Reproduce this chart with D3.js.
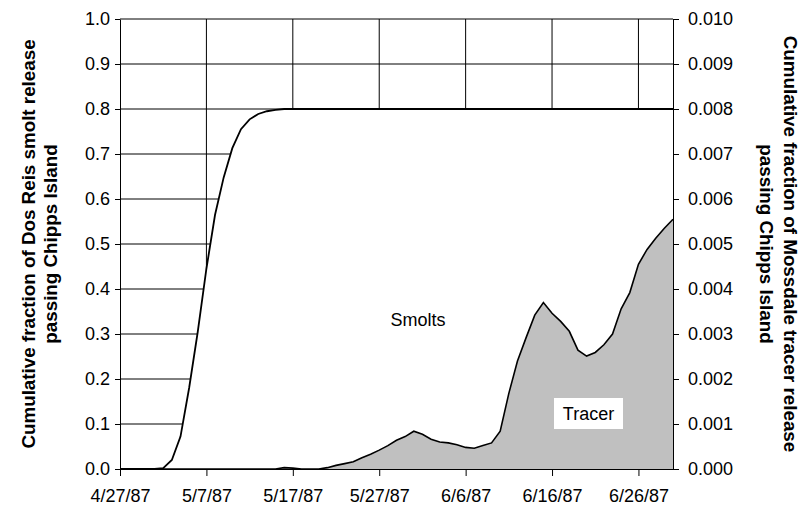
<!DOCTYPE html>
<html>
  <head>
    <title>Smolts and Tracer</title>
    <meta charset="utf-8">
    <style>
      body {
        margin: 0;
        background-color: white;
      }
      svg {
        display: block;
        font-family: "Liberation Sans", Arial, sans-serif;
      }
      .axis text {
        font-size: 18px;
        fill: #000;
      }
      .axis path,
      .axis line {
        stroke: #000;
        stroke-width: 1;
      }
      .grid line {
        stroke: #000;
        stroke-width: 1;
      }
      .axisTitle {
        font-size: 18.8px;
        font-weight: bold;
        fill: #000;
      }
      .label {
        font-size: 18px;
        fill: #000;
      }
    </style>
  </head>
  <body>
  <svg id="chart"></svg>
  <script src="https://d3js.org/d3.v7.min.js"></script>
  <script>
    // daily values from 4/27/87 through 6/30/87
    var firstDay = new Date(1987, 3, 27);
    var lastDay = new Date(1987, 5, 30);

    // cumulative fraction of Dos Reis smolt release (left axis)
    var smolts = [
      0, 0, 0, 0, 0, 0.002, 0.02, 0.072, 0.18, 0.305,
      0.445, 0.565, 0.648, 0.713, 0.755, 0.777, 0.789, 0.795, 0.798, 0.8,
      0.8, 0.8, 0.8, 0.8, 0.8, 0.8, 0.8, 0.8, 0.8, 0.8,
      0.8, 0.8, 0.8, 0.8, 0.8, 0.8, 0.8, 0.8, 0.8, 0.8,
      0.8, 0.8, 0.8, 0.8, 0.8, 0.8, 0.8, 0.8, 0.8, 0.8,
      0.8, 0.8, 0.8, 0.8, 0.8, 0.8, 0.8, 0.8, 0.8, 0.8,
      0.8, 0.8, 0.8, 0.8, 0.8
    ];

    // cumulative fraction of Mossdale tracer release (right axis)
    var tracer = [
      0, 0, 0, 0, 0, 0, 0, 0, 0, 0,
      0, 0, 0, 0, 0, 0, 0, 0, 0, 0.00003,
      0.00002, 0, 0, 0, 0.00003, 0.00008, 0.00012, 0.00016, 0.00025, 0.00033,
      0.00042, 0.00052, 0.00064, 0.00072, 0.00084, 0.00077, 0.00066, 0.0006, 0.00058, 0.00054,
      0.00048, 0.00046, 0.00052, 0.00058, 0.00084, 0.00168, 0.0024, 0.00292, 0.00342, 0.0037,
      0.00346, 0.00328, 0.00306, 0.00264, 0.00251, 0.00259, 0.00276, 0.003, 0.00356, 0.00392,
      0.00455, 0.00488, 0.00513, 0.00535, 0.00555
    ];

    var leftTicks = [0, 0.1, 0.2, 0.3, 0.4, 0.5, 0.6, 0.7, 0.8, 0.9, 1.0];
    var rightTicks = [0, 0.001, 0.002, 0.003, 0.004, 0.005, 0.006, 0.007, 0.008, 0.009, 0.010];
    var dateTicks = ["4/27/87", "5/7/87", "5/17/87", "5/27/87", "6/6/87", "6/16/87", "6/26/87"];

    var parseDate = d3.timeParse("%m/%d/%y");
    var days = d3.timeDay.range(firstDay, d3.timeDay.offset(lastDay, 1));

    var W = 804, H = 506;
    var margin = {top: 19, right: 131, bottom: 37, left: 120};
    var width = W - margin.left - margin.right;
    var height = H - margin.top - margin.bottom;

    var svg = d3.select("#chart")
      .attr("width", W)
      .attr("height", H);

    var x = d3.scaleTime()
      .domain([firstDay, lastDay])
      .range([margin.left, margin.left + width]);

    var yL = d3.scaleLinear()
      .domain([0, 1])
      .range([margin.top + height, margin.top]);

    var yR = d3.scaleLinear()
      .domain([0, 0.01])
      .range([margin.top + height, margin.top]);

    var tickDates = dateTicks.map(parseDate);

    // gridlines
    var grid = svg.append("g").attr("class", "grid");
    grid.selectAll(".h")
      .data(leftTicks.slice(1))
      .enter().append("line")
      .attr("x1", margin.left)
      .attr("x2", margin.left + width)
      .attr("y1", function(d) { return yL(d); })
      .attr("y2", function(d) { return yL(d); });
    grid.selectAll(".v")
      .data(tickDates.slice(1))
      .enter().append("line")
      .attr("x1", function(d) { return x(d); })
      .attr("x2", function(d) { return x(d); })
      .attr("y1", margin.top)
      .attr("y2", margin.top + height);

    // smolt curve, white underneath so the grid is hidden below it
    var smoltArea = d3.area()
      .x(function(d, i) { return x(days[i]); })
      .y0(yL(0))
      .y1(function(d) { return yL(d); });
    var smoltLine = d3.line()
      .x(function(d, i) { return x(days[i]); })
      .y(function(d) { return yL(d); });

    svg.append("path")
      .datum(smolts)
      .attr("d", smoltArea)
      .attr("fill", "white");
    svg.append("path")
      .datum(smolts)
      .attr("d", smoltLine)
      .attr("fill", "none")
      .attr("stroke", "#000")
      .attr("stroke-width", 1.8);

    // tracer area
    var tracerArea = d3.area()
      .x(function(d, i) { return x(days[i]); })
      .y0(yR(0))
      .y1(function(d) { return yR(d); });
    var tracerLine = d3.line()
      .x(function(d, i) { return x(days[i]); })
      .y(function(d) { return yR(d); });

    svg.append("path")
      .datum(tracer)
      .attr("d", tracerArea)
      .attr("fill", "#c0c0c0");
    svg.append("path")
      .datum(tracer)
      .attr("d", tracerLine)
      .attr("fill", "none")
      .attr("stroke", "#000")
      .attr("stroke-width", 1.6);

    // axes
    svg.append("g")
      .attr("class", "axis")
      .attr("transform", "translate(" + margin.left + ",0)")
      .call(d3.axisLeft(yL)
        .tickValues(leftTicks)
        .tickFormat(d3.format(".1f"))
        .tickSize(5)
        .tickSizeOuter(0)
        .tickPadding(5));

    svg.append("g")
      .attr("class", "axis")
      .attr("transform", "translate(" + (margin.left + width) + ",0)")
      .call(d3.axisRight(yR)
        .tickValues(rightTicks)
        .tickFormat(d3.format(".3f"))
        .tickSize(6)
        .tickSizeOuter(0)
        .tickPadding(9));

    svg.append("g")
      .attr("class", "axis")
      .attr("transform", "translate(0," + (margin.top + height) + ")")
      .call(d3.axisBottom(x)
        .tickValues(tickDates)
        .tickFormat(d3.timeFormat("%-m/%-d/%y"))
        .tickSize(7)
        .tickSizeOuter(0)
        .tickPadding(13));

    // axis titles
    var midY = margin.top + height / 2;
    svg.append("text")
      .attr("class", "axisTitle")
      .attr("transform", "translate(34.5," + midY + ") rotate(-90)")
      .attr("text-anchor", "middle")
      .text("Cumulative fraction of Dos Reis smolt release");
    svg.append("text")
      .attr("class", "axisTitle")
      .attr("transform", "translate(56.5," + midY + ") rotate(-90)")
      .attr("text-anchor", "middle")
      .text("passing Chipps Island");

    svg.append("text")
      .attr("class", "axisTitle")
      .attr("transform", "translate(783.5," + midY + ") rotate(90)")
      .attr("text-anchor", "middle")
      .text("Cumulative fraction of Mossdale tracer release");
    svg.append("text")
      .attr("class", "axisTitle")
      .attr("transform", "translate(759.5," + midY + ") rotate(90)")
      .attr("text-anchor", "middle")
      .text("passing Chipps Island");

    // series labels
    svg.append("text")
      .attr("class", "label")
      .attr("x", 418)
      .attr("y", 326)
      .attr("text-anchor", "middle")
      .text("Smolts");

    svg.append("rect")
      .attr("x", 554)
      .attr("y", 398)
      .attr("width", 69)
      .attr("height", 31)
      .attr("fill", "white");
    svg.append("text")
      .attr("class", "label")
      .attr("x", 588.5)
      .attr("y", 420)
      .attr("text-anchor", "middle")
      .text("Tracer");
  </script>
  </body>
</html>
